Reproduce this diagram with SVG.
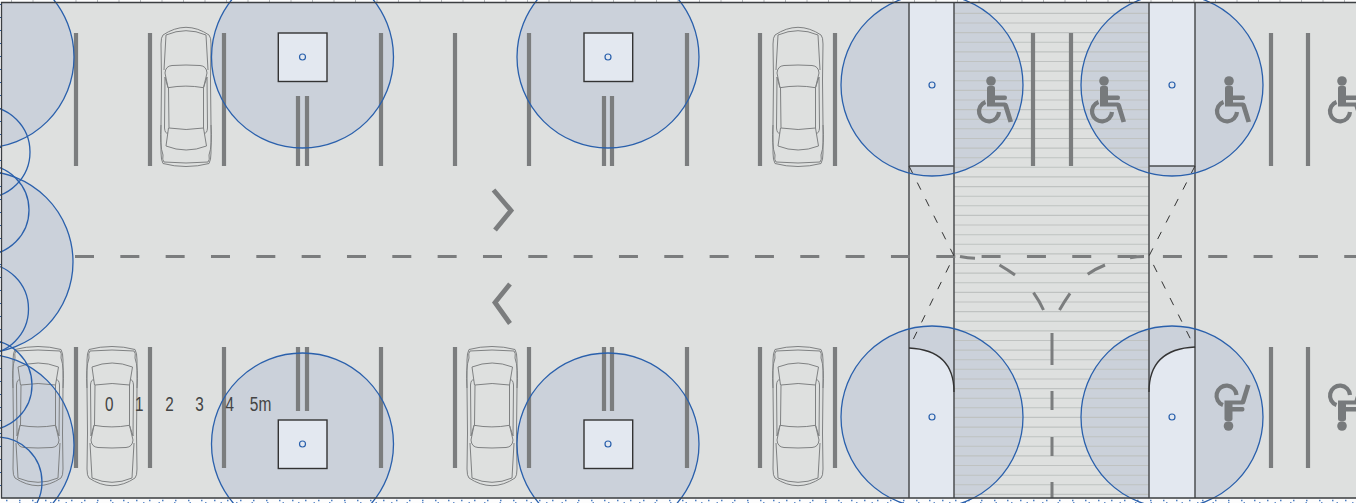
<svg xmlns="http://www.w3.org/2000/svg" xmlns:xlink="http://www.w3.org/1999/xlink" width="1356" height="503" viewBox="0 0 1356 503">
<style>
.zone{fill:#cbd1da;stroke:none}
.ring{fill:none;stroke:#2a60ac;stroke-width:1.300}
.pale{fill:#e3e8f0;stroke:none}
.edge{fill:none;stroke:#4c4e50;stroke-width:1.500}
.bar{fill:none;stroke:#7b7d7e;stroke-width:4.200}
.hatch{fill:none;stroke:#bfc2c1;stroke-width:1.100}
.dash{fill:none;stroke:#7b7d7e;stroke-width:3}
.chev{fill:none;stroke:#7b7d7e;stroke-width:4.800}
.thin{fill:none;stroke:#333;stroke-width:1;stroke-dasharray:8 10.500}
.car{fill:none;stroke:#7f8182;stroke-width:1}
.sym{fill:#777a7c;stroke:none}
.box{fill:#e3e8f0;stroke:#333;stroke-width:1.400}
.dot{fill:none;stroke:#2a60ac;stroke-width:1.200}
.lab{font-family:"Liberation Sans",sans-serif;font-size:20px;fill:#444}
</style>
<defs>
<clipPath id="plan"><rect x="2" y="3" width="1354" height="495"/></clipPath>
<g id="carShape">
<path d="M-23,15Q-12,7.500 0,7.300Q12,7.500 23,15Q25,17 25,24L24.500,60L25,105L25,133Q25,140 23,143.500Q12,146.500 0,146.500Q-12,146.500 -23,143.500Q-25,140 -25,133L-25,105L-24.500,60L-25,24Q-25,17 -23,15Z"/>
<path d="M-20,15Q-10,10.700 0,10.700Q10,10.700 20,15L22,50M-20,15L-22,50M-25,105Q-26.500,125 -23,135Q-24,140 -22,142Q0,144 22,142Q24,140 23,135Q26.500,125 25,105"/>
<path d="M-18,67.700L-21,53Q-20.500,46 -14,45.500Q0,44.500 14,45.500Q20.500,46 21,53L17.500,67.700Q0,64.500 -18,67.700Z"/>
<path d="M-17.500,67.700L-17,108Q0,111 17.500,108L17.500,67.700M-17.500,108L-20,126Q0,134 20.500,126L17.500,108"/>
<path d="M-21,57L-18,67.700M21,57L17.500,67.700M-21,57L-21.500,108Q-21,114 -18,113M21,57L21.500,108Q21,114 18,113"/>
</g>
<g id="chair">
<circle class="sym" cx="0" cy="0" r="4.800"/>
<path class="sym" d="M-4,7Q-4,5 -2,5L2,5Q4,5 4,7L4,14.500L14,14.500Q16,14.500 16,16.700Q16,19 14,19L4,19L4,21.500L14,21.500Q16.500,21.500 17,24L22,40.500L17.500,41.500L12.500,25.500L-4,25.500Z"/>
<path d="M-5.500,21A10,10 0 1 0 8,31" fill="none" stroke="#777a7c" stroke-width="4.200"/>
</g>
</defs>
<rect x="0" y="0" width="1356" height="503" fill="#fdfdfd"/>
<path d="M11,1H1356" stroke="#b5b8ba" stroke-width="2" stroke-dasharray="1 20.500" fill="none"/>
<path d="M6,500.500H1356" stroke="#4a7cc0" stroke-width="1.500" stroke-dasharray="1.500 11.500" fill="none"/>
<path d="M19,502.500H1356" stroke="#6c93cc" stroke-width="1" stroke-dasharray="1.500 14" fill="none"/>
<path d="M0.500,4V498" stroke="#2a60ac" stroke-width="1" stroke-dasharray="1 12" fill="none"/>
<rect id="ground" x="1.500" y="2.500" width="1355" height="496" fill="#dee0df"/>
<g id="coverage-fill" clip-path="url(#plan)">
<circle class="zone" cx="-17" cy="57" r="91"/>
<circle class="zone" cx="-18" cy="262" r="91"/>
<circle class="zone" cx="-17" cy="445" r="91"/>
<circle class="zone" cx="302.500" cy="57" r="91"/>
<circle class="zone" cx="608" cy="57" r="91"/>
<circle class="zone" cx="302.500" cy="444" r="91"/>
<circle class="zone" cx="608" cy="444" r="91"/>
<circle class="zone" cx="932" cy="85" r="91"/>
<circle class="zone" cx="1172" cy="85" r="91"/>
<circle class="zone" cx="932" cy="417" r="91"/>
<circle class="zone" cx="1172" cy="417" r="91"/>
</g>
<path id="crossing" class="hatch" d="M954 13.400H1149M954 23H1149M954 32.600H1149M954 42.300H1149M954 51.900H1149M954 61.500H1149M954 71.100H1149M954 80.700H1149M954 90.400H1149M954 100H1149M954 109.600H1149M954 119.200H1149M954 128.800H1149M954 138.500H1149M954 148.100H1149M954 157.700H1149M954 167.300H1149M954 176.900H1149M954 186.600H1149M954 196.200H1149M954 205.800H1149M954 215.400H1149M954 225H1149M954 234.700H1149M954 244.300H1149M954 253.900H1149M954 263.500H1149M954 273.100H1149M954 282.800H1149M954 292.400H1149M954 302H1149M954 311.600H1149M954 321.200H1149M954 330.900H1149M954 340.500H1149M954 350.100H1149M954 359.700H1149M954 369.300H1149M954 379H1149M954 388.600H1149M954 398.200H1149M954 407.800H1149M954 417.400H1149M954 427.100H1149M954 436.700H1149M954 446.300H1149M954 455.900H1149M954 465.500H1149M954 475.200H1149M954 484.800H1149M954 494.400H1149"/>
<g id="bays">
<path class="bar" d="M76 33V166M150 33V166M224 33V166M381 33V166M455 33V166M529 33V166M687 33V166M760 33V166M835 33V166M1033 33V166M1071 33V166M1271 33V166M1308 33V166"/>
<path class="bar" d="M298 96V166M307 96V166M604 96V166M612 96V166"/>
<path class="bar" d="M76 347V468M150 347V468M224 347V468M381 347V468M455 347V468M529 347V468M687 347V468M760 347V468M835 347V468M1271 347V468M1308 347V468"/>
<path class="bar" d="M298 347V411M307 347V411M604 347V411M612 347V411"/>
</g>
<g id="doors">
<rect class="pale" x="909" y="3" width="45" height="163"/>
<rect class="pale" x="1149" y="3" width="46" height="163"/>
<path class="pale" d="M909 348Q954 350 954 392V498H909Z"/>
<path class="pale" d="M1195 347Q1149 349 1149 392V498H1195Z"/>
<path class="edge" d="M909 2V498M954 2V498M1149 2V498M1195 2V498"/>
<path class="edge" d="M909 166H954M1149 166H1195"/>
<path d="M909 348Q954 350 954 392M1195 347Q1149 349 1149 392" fill="none" stroke="#333" stroke-width="1.300"/>
</g>
<g id="cars">
<use class="car" xlink:href="#carShape" href="#carShape" transform="translate(186,20)"/>
<use class="car" xlink:href="#carShape" href="#carShape" transform="translate(798,20)"/>
<use class="car" xlink:href="#carShape" href="#carShape" transform="translate(38,493) scale(1,-1)"/>
<use class="car" xlink:href="#carShape" href="#carShape" transform="translate(112,493) scale(1,-1)"/>
<use class="car" xlink:href="#carShape" href="#carShape" transform="translate(492,493) scale(1,-1)"/>
<use class="car" xlink:href="#carShape" href="#carShape" transform="translate(798,493) scale(1,-1)"/>
</g>
<g id="accessible-bays">
<use xlink:href="#chair" href="#chair" transform="translate(991,81)"/>
<use xlink:href="#chair" href="#chair" transform="translate(1104,81)"/>
<use xlink:href="#chair" href="#chair" transform="translate(1229,81)"/>
<use xlink:href="#chair" href="#chair" transform="translate(1342,81)"/>
<use xlink:href="#chair" href="#chair" transform="translate(1228.500,426) scale(1,-1)"/>
<use xlink:href="#chair" href="#chair" transform="translate(1342,426) scale(1,-1)"/>
</g>
<g id="connectors">
<path class="dash" stroke-dasharray="19 26.330" d="M75 256.500H1356"/>
<path class="chev" d="M493.500 190L511 210.500L495 230M510 284L495 302.500L510 323.500"/>
<path class="dash" d="M960 256.500Q968 258 975 258.300M999.500 265Q1008 270 1015 275M1033.500 292.700Q1040 302 1043.500 310M1144 256.500Q1137 256.500 1130 257.700M1105 265Q1095 269 1087.700 274.300M1070 293.300Q1064 302 1059.500 310M1052 333V365M1052 391V410M1052 437V456M1052 482V498"/>
<path class="thin" d="M909 166L954 256L909 348M1195 166L1149 256L1195 348"/>
</g>
<g id="light-n1"><rect class="box" x="278.300" y="33" width="48.700" height="48.500"/><circle class="dot" cx="302.500" cy="57" r="3"/></g>
<g id="light-n2"><rect class="box" x="584" y="33" width="48.700" height="48.500"/><circle class="dot" cx="608" cy="57" r="3"/></g>
<g id="light-n3"><rect class="box" x="278.300" y="420" width="48.700" height="48.500"/><circle class="dot" cx="302.500" cy="444" r="3"/></g>
<g id="light-n4"><rect class="box" x="584" y="420" width="48.700" height="48.500"/><circle class="dot" cx="608" cy="444" r="3"/></g>
<g id="light-d1"><circle class="dot" cx="932" cy="85" r="3"/></g>
<g id="light-d2"><circle class="dot" cx="1172" cy="85" r="3"/></g>
<g id="light-d3"><circle class="dot" cx="932" cy="417" r="3"/></g>
<g id="light-d4"><circle class="dot" cx="1172" cy="417" r="3"/></g>
<g id="coverage-rings">
<circle class="ring" cx="-17" cy="57" r="91"/>
<circle class="ring" cx="-16" cy="152" r="46"/>
<circle class="ring" cx="-16" cy="210" r="45"/>
<circle class="ring" cx="-18" cy="262" r="91"/>
<circle class="ring" cx="-17" cy="309" r="45.500"/>
<circle class="ring" cx="-13" cy="385" r="45"/>
<circle class="ring" cx="-17" cy="445" r="91"/>
<circle class="ring" cx="-3" cy="482" r="45"/>
<circle class="ring" cx="302.500" cy="57" r="91"/>
<circle class="ring" cx="608" cy="57" r="91"/>
<circle class="ring" cx="302.500" cy="444" r="91"/>
<circle class="ring" cx="608" cy="444" r="91"/>
<circle class="ring" cx="932" cy="85" r="91"/>
<circle class="ring" cx="1172" cy="85" r="91"/>
<circle class="ring" cx="932" cy="417" r="91"/>
<circle class="ring" cx="1172" cy="417" r="91"/>
</g>
<path id="border" d="M1356 2.500H1.500V498H1356" fill="none" stroke="#3c3f42" stroke-width="1.300"/>
<g id="scale">
<text class="lab" x="105" y="411" textLength="8.500" lengthAdjust="spacingAndGlyphs">0</text>
<text class="lab" x="135" y="411" textLength="8.500" lengthAdjust="spacingAndGlyphs">1</text>
<text class="lab" x="165.200" y="411" textLength="8.500" lengthAdjust="spacingAndGlyphs">2</text>
<text class="lab" x="195.200" y="411" textLength="8.500" lengthAdjust="spacingAndGlyphs">3</text>
<text class="lab" x="225.500" y="411" textLength="8.500" lengthAdjust="spacingAndGlyphs">4</text>
<text class="lab" x="249.800" y="411" textLength="21.500" lengthAdjust="spacingAndGlyphs">5m</text>
</g>
</svg>
